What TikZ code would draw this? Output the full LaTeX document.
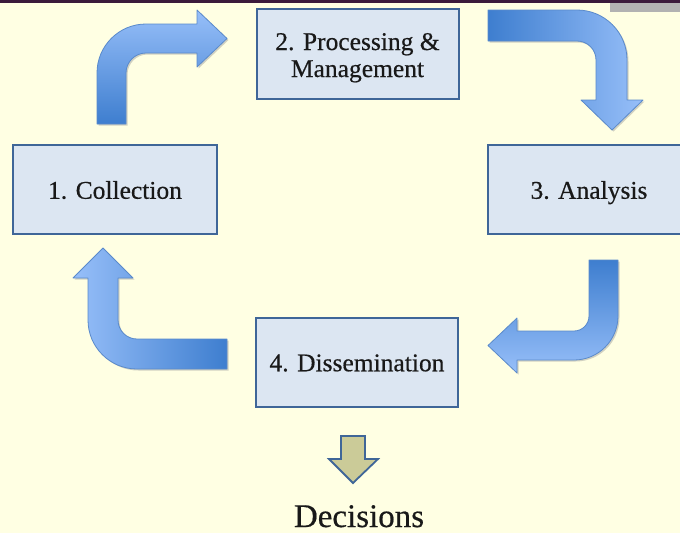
\documentclass[tikz,border=0pt]{standalone}
\usepackage{fontspec}
\setmainfont{Liberation Serif}
\newfontfamily\heavyserif{Liberation Serif}[BoldFont={Liberation Serif}, BoldFeatures={FakeBold=0.5}]
\definecolor{bg}{HTML}{FFFFE3}
\definecolor{boxfill}{HTML}{DCE6F2}
\definecolor{boxline}{HTML}{3F6698}
\definecolor{adark}{HTML}{3E7ECF}
\definecolor{alight}{HTML}{97BFF9}
\definecolor{aline}{HTML}{5A8ACB}
\definecolor{topbar}{HTML}{3B1A3B}
\definecolor{decfill}{HTML}{CBCB98}
\tikzset{
  stagebox/.style={draw=boxline, line width=2pt, fill=boxfill, minimum width=202pt, minimum height=89pt, inner sep=0pt, align=center, font=\heavyserif\bfseries\fontsize{25.5}{27}\selectfont, text height=18.5pt, text depth=0pt, text=black!90},
  arrowshadow/.style={fill=black!40, opacity=0.45},
  bluearrow/.style={draw=aline, line width=0.8pt, line join=round},
}
\newcommand\pathA{(97,124) -- (97,73) arc[start angle=180,end angle=270,radius=49] -- (197,24) -- (197,10) -- (227,38.5) -- (197,67) -- (197,53) -- (146,53) arc[start angle=270,end angle=180,radius=20] -- (126,124) -- cycle}
\newcommand\pathB{(488,10) -- (577,10) arc[start angle=270,end angle=360,radius=50] -- (627,100) -- (643,100) -- (612,130) -- (581,100) -- (596,100) -- (596,60) arc[start angle=0,end angle=-90,radius=19] -- (488,41) -- cycle}
\newcommand\pathC{(227,339) -- (137,339) arc[start angle=90,end angle=180,radius=19] -- (118,278) -- (133,278) -- (103,248) -- (73,278) -- (88,278) -- (88,320) arc[start angle=180,end angle=90,radius=49] -- (227,369) -- cycle}
\newcommand\pathD{(589,260) -- (618,260) -- (618,316) arc[start angle=0,end angle=90,radius=44] -- (517,360) -- (517,373) -- (488,345.5) -- (517,318) -- (517,331) -- (574,331) arc[start angle=90,end angle=0,radius=15] -- cycle}
\begin{document}
\begin{tikzpicture}[x=1pt,y=-1pt]
\useasboundingbox (0,0) rectangle (680,533);
\fill[bg] (0,0) rectangle (680,533);
\fill[topbar] (0,0) rectangle (680,2.5);
\fill[black!30] (610,2.5) rectangle (680,12);
% shadows
\begin{scope}[shift={(1.5,1.5)}]
  \fill[arrowshadow] \pathA;
  \fill[arrowshadow] \pathB;
  \fill[arrowshadow] \pathC;
  \fill[arrowshadow] \pathD;
\end{scope}
% arrows
\shadedraw[bluearrow, bottom color=adark, top color=alight] \pathA;
\shadedraw[bluearrow, left color=adark, right color=alight] \pathB;
\shadedraw[bluearrow, right color=adark, left color=alight] \pathC;
\shadedraw[bluearrow, top color=adark, bottom color=alight] \pathD;
% boxes
\node[stagebox, minimum width=204pt] (collection) at (115,189.5) {1. Collection};
\node[stagebox, minimum height=90pt, text height=46pt] (processing) at (357.5,54) {2. Processing \&\\Management};
\node[stagebox] (analysis) at (589,189.5) {3. Analysis};
\node[stagebox] (dissemination) at (357,362) {4. Dissemination};
% decisions arrow
\filldraw[fill=decfill, draw=boxline, line width=1.8pt, line join=miter]
  (341,436) -- (365,436) -- (365,459) -- (378,459) -- (353,483) -- (329,459) -- (341,459) -- cycle;
\node[font=\heavyserif\bfseries\fontsize{33}{36}\selectfont, anchor=base, text=black!90] (decisions) at (359,527) {Decisions};
\end{tikzpicture}
\end{document}
